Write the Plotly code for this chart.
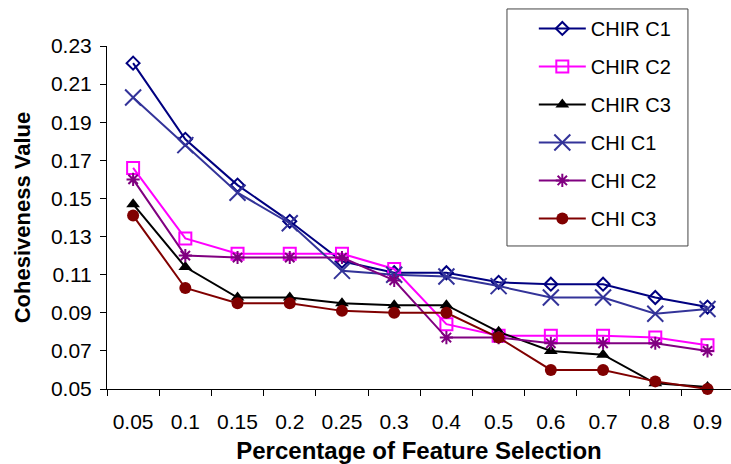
import plotly.graph_objects as go

# Percentage of features kept (category labels on the x axis)
selection = ["0.05", "0.1", "0.15", "0.2", "0.25", "0.3", "0.4", "0.5", "0.6", "0.7", "0.8", "0.9"]

chir_c1 = [0.221, 0.181, 0.157, 0.138, 0.117, 0.111, 0.111, 0.106, 0.105, 0.105, 0.098, 0.093]
chir_c2 = [0.166, 0.129, 0.121, 0.121, 0.121, 0.113, 0.084, 0.078, 0.078, 0.078, 0.077, 0.073]
chir_c3 = [0.147, 0.114, 0.098, 0.098, 0.095, 0.094, 0.094, 0.080, 0.070, 0.068, 0.053, 0.051]
chi_c1 = [0.203, 0.178, 0.153, 0.137, 0.112, 0.110, 0.109, 0.104, 0.098, 0.098, 0.0895, 0.092]
chi_c2 = [0.160, 0.120, 0.119, 0.119, 0.119, 0.107, 0.077, 0.077, 0.074, 0.074, 0.074, 0.070]
chi_c3 = [0.141, 0.103, 0.095, 0.095, 0.091, 0.090, 0.090, 0.077, 0.060, 0.060, 0.054, 0.050]

y_ticks = [0.05, 0.07, 0.09, 0.11, 0.13, 0.15, 0.17, 0.19, 0.21, 0.23]

series = [
    ("CHIR C1", chir_c1, "#000080", dict(symbol="diamond-open", size=10, line=dict(width=2))),
    ("CHIR C2", chir_c2, "#FF00FF", dict(symbol="square-open", size=12, line=dict(width=2))),
    ("CHIR C3", chir_c3, "#000000", dict(symbol="triangle-up", size=12)),
    ("CHI C1", chi_c1, "#333399", dict(symbol="x-thin", size=16, line=dict(width=2))),
    ("CHI C2", chi_c2, "#800080", dict(symbol="asterisk-open", size=11, line=dict(width=2))),
    ("CHI C3", chi_c3, "#800000", dict(symbol="circle", size=12)),
]

fig = go.Figure()
for name, vals, color, marker in series:
    m = dict(marker)
    m["color"] = color
    if "line" in m:
        m["line"] = dict(m["line"], color=color)
    fig.add_trace(go.Scatter(
        x=selection, y=vals, name=name, legendgroup=name,
        mode="lines+markers",
        line=dict(color=color, width=2),
        marker=m,
        cliponaxis=False,
    ))

font_family = "Liberation Sans, Arial, sans-serif"

# Framed box behind the legend entries
fig.add_shape(
    type="rect", xref="paper", yref="paper",
    x0=0.641, x1=0.931, y0=0.417, y1=1.108,
    line=dict(color="#444444", width=1), fillcolor="white", layer="above",
)

fig.update_layout(
    width=731, height=464,
    margin=dict(l=107, r=0, t=46, b=75),
    paper_bgcolor="white", plot_bgcolor="white",
    font=dict(family=font_family, color="black", size=20),
    showlegend=True,
    legend=dict(
        x=0.684, y=1.108, xanchor="left", yanchor="top",
        bgcolor="rgba(0,0,0,0)", borderwidth=0,
        font=dict(size=20), tracegroupgap=9, itemwidth=47,
        maxheight=400,
    ),
    xaxis=dict(
        type="category",
        range=[-0.5, 11.45],
        showline=True, linecolor="black", linewidth=1,
        ticks="outside", tickson="boundaries", ticklen=6, tickcolor="black",
        tickfont=dict(size=21), ticklabelstandoff=14,
        showgrid=False, zeroline=False,
        title=dict(text="<b>Percentage of Feature Selection</b>", font=dict(size=24), standoff=9),
    ),
    yaxis=dict(
        range=[0.05, 0.23],
        tickvals=y_ticks, tickformat=".2f",
        showline=True, linecolor="black", linewidth=1,
        ticks="outside", ticklen=6, tickcolor="black",
        tickfont=dict(size=21), ticklabelstandoff=4,
        showgrid=False, zeroline=False,
        title=dict(text="<b>Cohesiveness Value</b>", font=dict(size=22), standoff=14),
    ),
)

fig.write_html("out.html")
